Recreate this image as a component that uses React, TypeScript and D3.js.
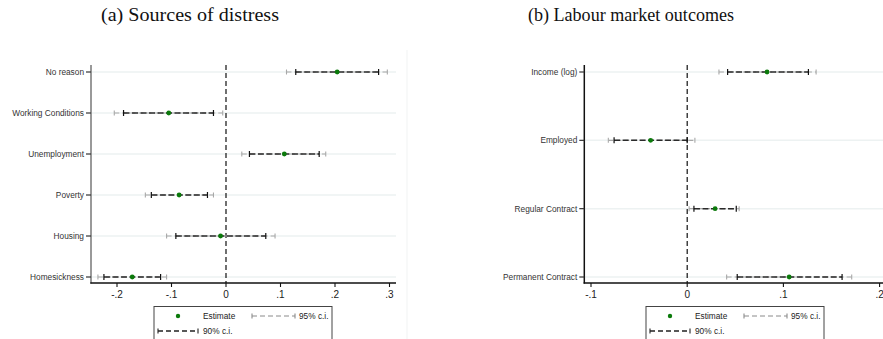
import React from "react";
import * as d3 from "d3";

// ---------- data ----------
const leftCats = ["No reason", "Working Conditions", "Unemployment", "Poverty", "Housing", "Homesickness"];
const leftEst = [0.204, -0.105, 0.107, -0.086, -0.010, -0.172];
const leftLo90 = [0.128, -0.188, 0.043, -0.137, -0.092, -0.224];
const leftHi90 = [0.280, -0.023, 0.171, -0.034, 0.073, -0.120];
const leftLo95 = [0.111, -0.205, 0.029, -0.148, -0.109, -0.235];
const leftHi95 = [0.296, -0.006, 0.183, -0.023, 0.090, -0.109];
const leftTicks = [-0.2, -0.1, 0, 0.1, 0.2, 0.3];
const leftTickLabels = ["-.2", "-.1", "0", ".1", ".2", ".3"];

const rightCats = ["Income (log)", "Employed", "Regular Contract", "Permanent Contract"];
const rightEst = [0.083, -0.038, 0.029, 0.106];
const rightLo90 = [0.042, -0.076, 0.007, 0.052];
const rightHi90 = [0.126, 0.000, 0.051, 0.161];
const rightLo95 = [0.033, -0.082, 0.002, 0.041];
const rightHi95 = [0.134, 0.008, 0.054, 0.171];
const rightTicks = [-0.1, 0, 0.1, 0.2];
const rightTickLabels = ["-.1", "0", ".1", ".2"];

const titles = ["(a) Sources of distress", "(b) Labour market outcomes"];
const legendLabels = ["Estimate", "95% c.i.", "90% c.i."];

const SANS = "'Liberation Sans', Arial, Helvetica, sans-serif";
const SERIF = "'Liberation Serif', 'DejaVu Serif', serif";
const GREEN = "#0b7a0b";

type PanelProps = {
  cats: string[];
  est: number[];
  lo90: number[];
  hi90: number[];
  lo95: number[];
  hi95: number[];
  ticks: number[];
  tickLabels: string[];
  x: d3.ScaleLinear<number, number>;
  axisX0: number;
  axisX1: number;
  gridX1: number;
  yAxisColor: string;
};

const TOP = 65;
const BOTTOM = 283;

function Panel(p: PanelProps) {
  const y = d3.scalePoint<string>().domain(p.cats).range([72, 277]);
  const zx = p.x(0);
  return (
    <g>
      {p.cats.map((c) => (
        <line key={"g" + c} x1={p.axisX0} x2={p.gridX1} y1={y(c)} y2={y(c)} stroke="#edf2f2" strokeWidth={1.5} />
      ))}
      {/* zero line */}
      <line x1={zx} x2={zx} y1={TOP} y2={BOTTOM} stroke="#111" strokeWidth={1.2} strokeDasharray="5,3" />
      {/* CIs */}
      {p.cats.map((c, i) => {
        const yy = y(c)!;
        return (
          <g key={"ci" + c}>
            <line x1={p.x(p.lo95[i])} x2={p.x(p.hi95[i])} y1={yy} y2={yy} stroke="#a8a8a8" strokeWidth={1.2} strokeDasharray="5,3" />
            <line x1={p.x(p.lo95[i])} x2={p.x(p.lo95[i])} y1={yy - 2.5} y2={yy + 2.5} stroke="#a8a8a8" strokeWidth={1.1} />
            <line x1={p.x(p.hi95[i])} x2={p.x(p.hi95[i])} y1={yy - 2.5} y2={yy + 2.5} stroke="#a8a8a8" strokeWidth={1.1} />
            <line x1={p.x(p.lo90[i])} x2={p.x(p.hi90[i])} y1={yy} y2={yy} stroke="#2a2a2a" strokeWidth={1.5} strokeDasharray="6,2.5" />
            <line x1={p.x(p.lo90[i])} x2={p.x(p.lo90[i])} y1={yy - 3} y2={yy + 3} stroke="#111" strokeWidth={1.2} />
            <line x1={p.x(p.hi90[i])} x2={p.x(p.hi90[i])} y1={yy - 3} y2={yy + 3} stroke="#111" strokeWidth={1.2} />
            <circle cx={p.x(p.est[i])} cy={yy} r={2.4} fill={GREEN} />
          </g>
        );
      })}
      {/* y axis */}
      <line x1={p.axisX0} x2={p.axisX0} y1={TOP} y2={BOTTOM + 0.6} stroke={p.yAxisColor} strokeWidth={1.5} />
      {p.cats.map((c) => (
        <g key={"yt" + c}>
          <line x1={p.axisX0 - 5} x2={p.axisX0} y1={y(c)} y2={y(c)} stroke="#333" strokeWidth={1.2} />
          <text x={p.axisX0 - 7} y={y(c)} dy="0.35em" textAnchor="end" fontFamily={SANS} fontSize={8.3} fill="#333">
            {c}
          </text>
        </g>
      ))}
      {/* x axis */}
      <line x1={p.axisX0 - 0.7} x2={p.axisX1} y1={BOTTOM} y2={BOTTOM} stroke="#111" strokeWidth={1.4} />
      {p.ticks.map((t, i) => (
        <g key={"xt" + i}>
          <line x1={p.x(t)} x2={p.x(t)} y1={BOTTOM} y2={BOTTOM + 4} stroke="#111" strokeWidth={1.1} />
          <text x={p.x(t)} y={BOTTOM + 11} dy="0.35em" textAnchor="middle" fontFamily={SANS} fontSize={10} fill="#222">
            {p.tickLabels[i]}
          </text>
        </g>
      ))}
    </g>
  );
}

function Legend({ x0 }: { x0: number }) {
  const r1 = 316;
  const r2 = 331;
  const capH = 2.5;
  const ci = (xa: number, xb: number, yy: number, color: string, w: number) => (
    <g>
      <line x1={xa} x2={xb} y1={yy} y2={yy} stroke={color} strokeWidth={w} strokeDasharray="5,3" />
      <line x1={xa} x2={xa} y1={yy - capH} y2={yy + capH} stroke={color} strokeWidth={1.1} />
      <line x1={xb} x2={xb} y1={yy - capH} y2={yy + capH} stroke={color} strokeWidth={1.1} />
    </g>
  );
  return (
    <g>
      <rect x={x0} y={306.5} width={178} height={45} fill="#fff" stroke="#444" strokeWidth={1} />
      <circle cx={x0 + 24} cy={r1} r={2.2} fill={GREEN} />
      <text x={x0 + 49} y={r1} dy="0.35em" fontFamily={SANS} fontSize={8.3} fill="#222">{legendLabels[0]}</text>
      {ci(x0 + 98, x0 + 141, r1, "#8a8a8a", 1)}
      <text x={x0 + 145} y={r1} dy="0.35em" fontFamily={SANS} fontSize={8.3} fill="#222">{legendLabels[1]}</text>
      {ci(x0 + 4, x0 + 44, r2, "#222", 1.3)}
      <text x={x0 + 49} y={r2} dy="0.35em" fontFamily={SANS} fontSize={8.3} fill="#222">{legendLabels[2]}</text>
    </g>
  );
}

export default function App() {
  const xL = d3.scaleLinear().domain([-0.2, 0.3]).range([117, 389.5]);
  const xR = d3.scaleLinear().domain([-0.1, 0.2]).range([591, 879.6]);
  return (
    <svg width={883} height={339} style={{ position: "absolute", left: 0, top: 0, background: "#fff" }}>
      <rect x={0} y={0} width={883} height={339} fill="#fff" />
      <line x1={407} x2={407} y1={50} y2={339} stroke="#f1f3f3" strokeWidth={1} />
      <text x={190} y={20.5} textAnchor="middle" fontFamily={SERIF} fontSize={19} fill="#111" textLength={178} lengthAdjust="spacingAndGlyphs">
        {titles[0]}
      </text>
      <text x={631} y={20.5} textAnchor="middle" fontFamily={SERIF} fontSize={19} fill="#111" textLength={206} lengthAdjust="spacingAndGlyphs">
        {titles[1]}
      </text>
      <Panel cats={leftCats} est={leftEst} lo90={leftLo90} hi90={leftHi90} lo95={leftLo95} hi95={leftHi95}
        ticks={leftTicks} tickLabels={leftTickLabels} x={xL} axisX0={91} axisX1={396} gridX1={396} yAxisColor="#777" />
      <Panel cats={rightCats} est={rightEst} lo90={rightLo90} hi90={rightHi90} lo95={rightLo95} hi95={rightHi95}
        ticks={rightTicks} tickLabels={rightTickLabels} x={xR} axisX0={584.3} axisX1={883} gridX1={883} yAxisColor="#111" />
      <Legend x0={154} />
      <Legend x0={646} />
    </svg>
  );
}
